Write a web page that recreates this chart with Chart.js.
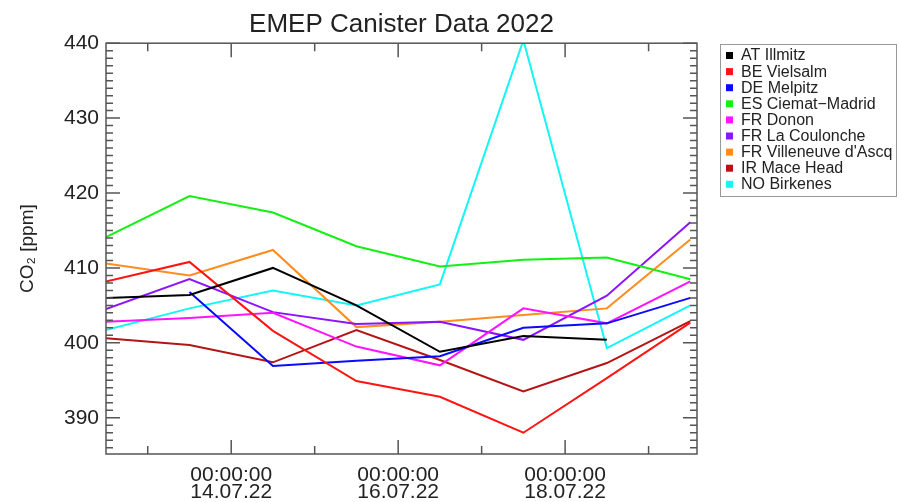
<!DOCTYPE html>
<html>
<head>
<meta charset="utf-8">
<script src="https://cdn.jsdelivr.net/npm/chart.js@4/dist/chart.umd.min.js"></script>
<style>
  body { margin: 0; background: #fff; }
  canvas { display: block; }
</style>
</head>
<body>
<canvas id="canvas" width="899" height="502"></canvas>
<script>
// sampling days (day of July 2022, noon)
var days = [12.5, 13.5, 14.5, 15.5, 16.5, 17.5, 18.5, 19.5];

var stations = ['AT Illmitz', 'BE Vielsalm', 'DE Melpitz', 'ES Ciemat\u2212Madrid', 'FR Donon',
                'FR La Coulonche', "FR Villeneuve d'Ascq", 'IR Mace Head', 'NO Birkenes'];
var colors = ['#000000', '#ff1414', '#0a0aff', '#14f014', '#ff14ff',
              '#8c14ff', '#ff8c1e', '#b41414', '#14f5f5'];

// CO2 in ppm
var atIllmitz    = [406.0, 406.4, 410.0, 405.0, 398.8, 400.9, 400.4, null];
var beVielsalm   = [408.2, 410.8, 401.6, 394.9, 392.8, 388.0, 395.3, 402.7];
var deMelpitz    = [null, 406.8, 396.9, 397.6, 398.2, 402.0, 402.6, 406.0];
var esCiemat     = [414.1, 419.6, 417.4, 412.9, 410.2, 411.1, 411.4, 408.5];
var frDonon      = [402.8, 403.3, 404.0, 399.5, 397.0, 404.6, 402.6, 408.2];
var frCoulonche  = [404.5, 408.5, 404.1, 402.5, 402.8, 400.4, 406.3, 416.1];
var frVilleneuve = [410.6, 409.0, 412.4, 402.1, 402.8, 403.7, 404.6, 413.8];
var irMaceHead   = [400.6, 399.7, 397.4, 401.7, 397.7, 393.5, 397.3, 402.9];
var noBirkenes   = [401.7, 404.6, 407.0, 405.0, 407.8, 440.4, 399.3, 405.0];

var series = [atIllmitz, beVielsalm, deMelpitz, esCiemat, frDonon,
              frCoulonche, frVilleneuve, irMaceHead, noBirkenes];

var yTicks = [390, 400, 410, 420, 430, 440];
var xLabelDays = [14, 16, 18];

var FONT = '"Liberation Sans", Arial, Helvetica, sans-serif';

function pad(n) {
    return (n < 10 ? '0' : '') + n;
}

// IDL style frame: box round the plot with ticks pointing inwards
var frameTicks = {
    id: 'frameTicks',
    afterDraw: function(chart) {
        var ctx = chart.ctx;
        var a = chart.chartArea;
        var xs = chart.scales.x;
        var ys = chart.scales.y;
        ctx.save();
        ctx.strokeStyle = '#555';
        ctx.lineWidth = 1.5;
        ctx.strokeRect(a.left, a.top, a.right - a.left, a.bottom - a.top);
        ctx.beginPath();
        for (var v = Math.ceil(ys.min); v <= ys.max; v++) {
            var py = ys.getPixelForValue(v);
            var len = (v % 10 == 0) ? 14 : 7;
            ctx.moveTo(a.left, py);
            ctx.lineTo(a.left + len, py);
            ctx.moveTo(a.right, py);
            ctx.lineTo(a.right - len, py);
        }
        for (var d = Math.ceil(xs.min); d <= xs.max; d++) {
            var px = xs.getPixelForValue(d);
            var l2 = (d % 2 == 0) ? 14 : 8;
            ctx.moveTo(px, a.bottom);
            ctx.lineTo(px, a.bottom - l2);
            ctx.moveTo(px, a.top);
            ctx.lineTo(px, a.top + l2);
        }
        ctx.stroke();
        ctx.restore();
    }
};

// boxed legend at the right
var legendBox = {
    id: 'legendBox',
    afterDraw: function(chart) {
        var ctx = chart.ctx;
        ctx.save();
        ctx.strokeStyle = '#999';
        ctx.lineWidth = 1;
        ctx.strokeRect(720.5, 44.5, 176, 152);
        ctx.font = '16px ' + FONT;
        ctx.textBaseline = 'middle';
        chart.data.datasets.forEach(function(ds, i) {
            var y = 55.5 + i * 16.1;
            ctx.fillStyle = ds.borderColor;
            ctx.fillRect(726, y - 3.5, 7, 7);
            ctx.fillStyle = '#222';
            ctx.fillText(ds.label, 741, y + 0.5);
        });
        ctx.restore();
    }
};

var datasets = [];
series.forEach(function(vals, i) {
    datasets.push({
        label: stations[i],
        data: days.map(function(d, j) { return {x: d, y: vals[j]}; }),
        borderColor: colors[i],
        backgroundColor: colors[i],
        borderWidth: 2,
        pointRadius: 0,
        tension: 0,
        spanGaps: false
    });
});

var config = {
    type: 'line',
    data: { datasets: datasets },
    options: {
        responsive: false,
        animation: false,
        layout: { padding: { left: 0, right: 202, top: 0, bottom: 0 } },
        plugins: {
            legend: { display: false },
            tooltip: { enabled: false },
            title: {
                display: true,
                text: 'EMEP Canister Data 2022',
                fullSize: false,
                color: '#222',
                font: { family: FONT, size: 26, weight: 'normal' },
                padding: { top: 9, bottom: 3 }
            }
        },
        scales: {
            x: {
                type: 'linear',
                min: 12.5,
                max: 19.58,
                grid: { display: false, drawTicks: false },
                border: { display: false },
                ticks: {
                    stepSize: 1,
                    includeBounds: false,
                    autoSkip: false,
                    maxRotation: 0,
                    padding: 13,
                    color: '#222',
                    font: { family: FONT, size: 21, lineHeight: 0.81 },
                    callback: function(value) {
                        var d = Math.round(value);
                        if (Math.abs(value - d) < 1e-6 && xLabelDays.indexOf(d) >= 0) {
                            return ['00:00:00', pad(d) + '.07.22'];
                        }
                        return '';
                    }
                },
                afterFit: function(scale) { scale.height = 48; }
            },
            y: {
                min: 385.16,
                max: 440,
                grid: { display: false, drawTicks: false },
                border: { display: false },
                afterBuildTicks: function(scale) {
                    scale.ticks = yTicks.map(function(v) { return {value: v}; });
                },
                ticks: {
                    padding: 7,
                    color: '#222',
                    font: { family: FONT, size: 21 }
                },
                title: {
                    display: true,
                    text: 'CO\u2082 [ppm]',
                    color: '#222',
                    font: { family: FONT, size: 19 },
                    padding: { top: 16, bottom: 0 }
                },
                afterFit: function(scale) { scale.width = 106; }
            }
        }
    },
    plugins: [frameTicks, legendBox]
};

var ctx = document.getElementById('canvas');
window.myChart = new Chart(ctx, config);
</script>
</body>
</html>
